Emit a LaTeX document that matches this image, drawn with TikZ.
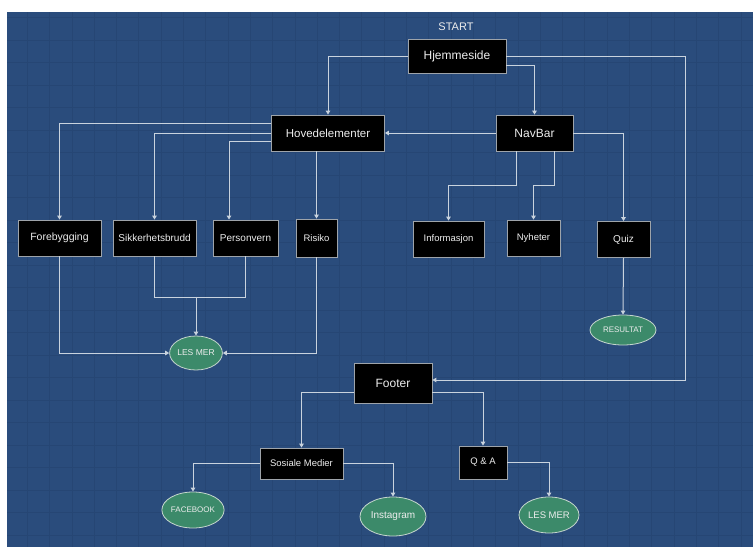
\documentclass[tikz,border=0pt]{standalone}
\usepackage{fontspec}
\setmainfont{Liberation Sans}
\usetikzlibrary{arrows.meta,shapes.geometric,calc}
\definecolor{bgblue}{HTML}{2A4C7C}
\definecolor{gridc}{HTML}{264674}
\definecolor{linec}{HTML}{C9D3DE}
\definecolor{boxborder}{HTML}{9EA4AA}
\definecolor{ellgreen}{HTML}{3C8A6A}
\definecolor{ellborder}{HTML}{C5D6CE}
\definecolor{txt}{HTML}{EDEDED}
\tikzset{
  box/.style={draw=boxborder, line width=0.8pt, fill=black, text=txt, inner sep=0pt, align=center},
  oval/.style={ellipse, draw=ellborder, line width=0.8pt, fill=ellgreen, text=txt, inner sep=0pt, align=center},
  conn/.style={draw=linec, line width=1pt},
  arr/.style={conn, -{Triangle[length=4pt,width=4.5pt,fill=linec]}},
}
\begin{document}
\begin{tikzpicture}[x=1pt,y=-1pt]
\useasboundingbox (0,0) rectangle (753,547);
\fill[white] (0,0) rectangle (753,547);
\fill[bgblue] (7,12) rectangle (753,547);
\begin{scope}
\clip (7,12) rectangle (753,547);
\foreach \i in {0,...,33} {
  \draw[gridc, line width=0.7pt] (27.3+22.3*\i,12) -- (27.3+22.3*\i,547);
}
\foreach \j in {0,...,23} {
  \draw[gridc, line width=0.7pt] (7,17.5+22.5*\j) -- (753,17.5+22.5*\j);
}
\end{scope}

% nodes
\node[text=txt, font=\fontsize{11}{13}\selectfont] (start) at (456,27) {START};
\node[box, minimum width=98pt, minimum height=34pt, font=\fontsize{12}{14}\selectfont] (hjem) at (457,56) {Hjemmeside};
\node[box, minimum width=113pt, minimum height=36pt, font=\fontsize{11.5}{14}\selectfont] (hoved) at (328,133) {Hovedelementer};
\node[box, minimum width=77pt, minimum height=36pt, font=\fontsize{12}{14}\selectfont] (navbar) at (534.5,133) {NavBar};

\node[box, minimum width=83pt, minimum height=36pt, font=\fontsize{10.5}{12}\selectfont] (fore) at (59.5,238) {Forebygging};
\node[box, minimum width=83pt, minimum height=36pt, font=\fontsize{10}{12}\selectfont] (sikk) at (154.5,238) {Sikkerhetsbrudd};
\node[box, minimum width=65pt, minimum height=36pt, font=\fontsize{10}{12}\selectfont] (pers) at (245.5,238) {Personvern};
\node[box, minimum width=41pt, minimum height=38pt, font=\fontsize{9.5}{12}\selectfont] (risiko) at (316.5,238) {Risiko};

\node[box, minimum width=71pt, minimum height=36pt, font=\fontsize{9.5}{12}\selectfont] (info) at (448.5,239) {Informasjon};
\node[box, minimum width=53pt, minimum height=36pt, font=\fontsize{9.5}{12}\selectfont] (nyh) at (533.5,238) {Nyheter};
\node[box, minimum width=53pt, minimum height=36pt, font=\fontsize{10}{12}\selectfont] (quiz) at (623.5,239.5) {Quiz};

\node[oval, minimum width=66pt, minimum height=30pt, font=\fontsize{8}{10}\selectfont] (resultat) at (623,330) {RESULTAT};
\node[oval, minimum width=51pt, minimum height=34pt, font=\fontsize{8.5}{10}\selectfont] (lesmer1) at (196,353) {LES MER};

\node[box, minimum width=78pt, minimum height=40pt, font=\fontsize{12}{14}\selectfont] (footer) at (393,383) {Footer};
\node[box, minimum width=83pt, minimum height=31pt, font=\fontsize{9.5}{12}\selectfont] (sosiale) at (301.5,463.5) {Sosiale Medier};
\node[box, minimum width=48pt, minimum height=33pt, font=\fontsize{9.5}{12}\selectfont] (qa) at (483,462.5) {Q \& A};

\node[oval, minimum width=60pt, minimum height=36pt, font=\fontsize{8}{10}\selectfont] (facebook) at (193,510) {FACEBOOK};
\node[oval, minimum width=66pt, minimum height=39pt, font=\fontsize{10}{12}\selectfont] (instagram) at (393,516.5) {Instagram};
\node[oval, minimum width=60pt, minimum height=36pt, font=\fontsize{9.5}{12}\selectfont] (lesmer2) at (549,515) {LES MER};

% connectors
\draw[arr] (hjem.west) -| (hoved.north);
\draw[arr] ([yshift=-9pt]hjem.east) -| (navbar.north);
\draw[arr] (hjem.east) -- ++(179,0) |- ([yshift=3pt]footer.east);

\draw[arr] ([yshift=10pt]hoved.west) -| (fore.north);
\draw[arr] (hoved.west) -| (sikk.north);
\draw[arr] ([yshift=-8pt]hoved.west) -| ([xshift=-16.5pt]pers.north);
\draw[arr] (risiko.north |- hoved.south) -- (risiko.north);

\draw[arr] (navbar.west) -- (hoved.east);
\draw[arr] ([xshift=-18.5pt]navbar.south) -- ++(0,34) -| (info.north);
\draw[arr] ([xshift=19.5pt]navbar.south) -- ++(0,34) -| (nyh.north);
\draw[arr] (navbar.east) -| (quiz.north);
\draw[arr] (quiz.south) -- (resultat.north);

\draw[arr] (fore.south) |- (lesmer1.west);
\draw[arr] (risiko.south) |- (lesmer1.east);
\draw[conn] (sikk.south) -- ++(0,41) -| (pers.south);
\draw[arr] (lesmer1.north) ++(0,-39) -- (lesmer1.north);

\draw[arr] ([yshift=-9pt]footer.west) -| (sosiale.north);
\draw[arr] ([yshift=-9pt]footer.east) -| (qa.north);
\draw[arr] (sosiale.west) -| (facebook.north);
\draw[arr] (sosiale.east) -| (instagram.north);
\draw[arr] (qa.east) -| (lesmer2.north);
\end{tikzpicture}
\end{document}
